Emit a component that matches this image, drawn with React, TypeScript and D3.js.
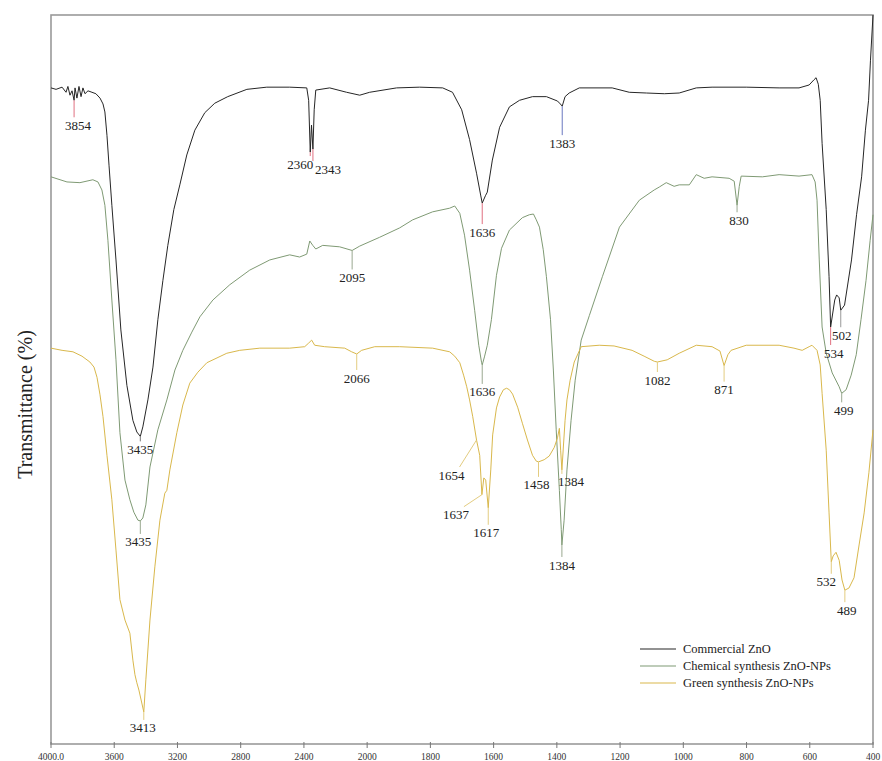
import React from 'react';
import * as d3 from 'd3';

// wavenumber (cm-1), transmittance (arbitrary %, stacked)
const commercial: [number, number][] = [
  [4000, 90.0], [3968, 89.8], [3930, 90.1], [3905, 89.4], [3893, 90.2], [3880, 89.0], [3867, 89.6],
  [3854, 88.3], [3848, 90.0], [3836, 88.6], [3823, 90.2], [3810, 88.8], [3798, 90.0], [3785, 89.2],
  [3766, 89.6], [3741, 89.4], [3716, 89.2], [3690, 88.6], [3671, 87.8], [3659, 86.7], [3646, 83.5],
  [3633, 79.4], [3615, 73.9], [3589, 66.4], [3558, 56.8], [3520, 49.2], [3482, 44.4], [3457, 42.8],
  [3435, 42.2], [3419, 43.5], [3387, 47.2], [3355, 51.7], [3324, 58.2], [3292, 63.6], [3261, 68.4],
  [3223, 73.3], [3185, 76.7], [3141, 80.8], [3090, 84.2], [3027, 86.6], [2964, 87.9], [2882, 88.8],
  [2761, 89.8], [2635, 90.1], [2490, 90.1], [2382, 90.0], [2370, 88.3], [2360, 81.2], [2352, 84.9],
  [2343, 81.6], [2335, 87.0], [2325, 89.7], [2237, 90.0], [2130, 89.4], [2047, 89.0], [1992, 89.4],
  [1907, 90.0], [1834, 90.1], [1761, 90.0], [1730, 89.4], [1701, 87.0], [1676, 82.9], [1654, 78.3],
  [1641, 75.3], [1636, 74.2], [1626, 75.2], [1620, 75.7], [1604, 80.1], [1581, 84.6], [1550, 87.4],
  [1518, 88.3], [1477, 88.8], [1433, 88.8], [1398, 88.2], [1389, 87.8], [1383, 87.5], [1374, 88.8],
  [1361, 89.3], [1329, 90.0], [1225, 90.0], [1171, 89.4], [1117, 89.3], [1060, 89.2], [1013, 89.3],
  [959, 90.0], [909, 90.1], [801, 90.1], [697, 90.0], [634, 90.0], [602, 90.4], [587, 91.1],
  [580, 91.4], [573, 90.5], [567, 88.3], [561, 82.4], [548, 73.3], [539, 64.1], [534, 57.2],
  [521, 60.9], [515, 61.6], [507, 61.2], [502, 59.5], [490, 60.2], [468, 66.4], [452, 72.6],
  [436, 77.8], [424, 84.2], [414, 88.3], [408, 93.8], [400, 100],
];

const chemical: [number, number][] = [
  [4000, 77.8], [3899, 77.1], [3817, 77.0], [3735, 77.4], [3703, 77.1], [3678, 76.0], [3659, 73.9],
  [3640, 69.1], [3615, 60.9], [3589, 52.7], [3564, 42.7], [3532, 36.2], [3501, 33.5], [3476, 31.8],
  [3450, 30.7], [3435, 30.6], [3419, 31.0], [3400, 32.8], [3374, 38.0], [3324, 43.1], [3267, 47.2],
  [3216, 51.3], [3166, 54.0], [3109, 56.5], [3058, 58.6], [2976, 60.9], [2869, 63.0], [2743, 65.0],
  [2616, 66.4], [2490, 67.1], [2427, 66.8], [2382, 67.2], [2363, 69.0], [2344, 68.4], [2325, 67.9],
  [2281, 68.4], [2174, 68.2], [2095, 67.7], [2047, 68.3], [1961, 69.5], [1897, 70.8], [1856, 71.9],
  [1793, 73.0], [1739, 73.5], [1723, 73.8], [1707, 72.8], [1692, 69.8], [1676, 65.0], [1660, 59.5],
  [1647, 54.7], [1638, 52.3], [1636, 52.0], [1629, 53.1], [1620, 54.7], [1607, 58.2], [1591, 64.3],
  [1575, 68.0], [1550, 70.5], [1509, 72.2], [1487, 72.6], [1474, 72.7], [1465, 71.9], [1455, 70.9],
  [1443, 67.8], [1433, 64.1], [1420, 58.2], [1411, 51.3], [1402, 43.1], [1392, 34.8], [1386, 29.4],
  [1384, 27.3], [1377, 30.7], [1368, 37.6], [1355, 44.4], [1342, 49.9], [1323, 55.4], [1297, 58.8],
  [1256, 64.1], [1202, 70.9], [1139, 74.6], [1092, 76.0], [1076, 76.4], [1054, 77.0], [1029, 76.5],
  [1013, 76.7], [981, 76.7], [959, 78.1], [934, 77.6], [909, 77.8], [855, 77.6], [839, 77.2],
  [830, 73.9], [823, 76.5], [817, 77.9], [750, 77.8], [697, 78.1], [634, 77.9], [593, 78.1],
  [583, 77.1], [577, 74.6], [570, 66.4], [561, 57.2], [548, 53.6], [529, 50.9], [507, 49.0],
  [499, 48.1], [485, 48.6], [469, 50.6], [453, 53.4], [438, 58.2], [422, 63.6], [409, 69.1], [400, 72.6],
];

const green: [number, number][] = [
  [4000, 54.3], [3930, 54.0], [3861, 53.8], [3804, 53.2], [3754, 52.4], [3728, 51.7], [3709, 50.3],
  [3690, 47.9], [3671, 44.9], [3646, 39.6], [3615, 33.5], [3589, 26.6], [3564, 19.8], [3532, 17.0],
  [3501, 15.2], [3482, 11.5], [3469, 9.5], [3457, 8.4], [3444, 7.4], [3413, 4.4], [3400, 8.8],
  [3374, 17.0], [3343, 24.3], [3311, 30.7], [3280, 34.4], [3267, 34.8], [3248, 37.6], [3204, 42.7],
  [3166, 46.5], [3122, 49.5], [3071, 51.0], [3014, 52.3], [2888, 53.6], [2806, 54.0], [2679, 54.3],
  [2490, 54.3], [2395, 54.5], [2370, 55.0], [2351, 55.4], [2332, 54.7], [2269, 54.5], [2142, 54.3],
  [2098, 53.8], [2066, 53.5], [2035, 54.0], [1976, 54.5], [1897, 54.5], [1793, 54.3], [1739, 53.8],
  [1723, 53.2], [1707, 52.3], [1695, 50.6], [1685, 49.0], [1676, 47.2], [1666, 44.9], [1654, 41.7],
  [1644, 39.6], [1637, 34.2], [1631, 36.5], [1625, 36.2], [1617, 32.4], [1609, 37.6], [1603, 42.4],
  [1591, 46.1], [1581, 47.6], [1569, 48.6], [1559, 48.8], [1550, 48.6], [1540, 48.0], [1524, 46.2],
  [1509, 44.0], [1493, 41.7], [1477, 39.6], [1465, 38.8], [1458, 38.7], [1440, 39.0], [1424, 39.5],
  [1408, 40.7], [1398, 42.0], [1392, 43.3], [1388, 40.3], [1384, 37.6], [1374, 44.4], [1368, 47.2],
  [1358, 49.9], [1345, 52.4], [1323, 54.5], [1266, 54.7], [1219, 54.6], [1162, 54.0], [1124, 53.2],
  [1092, 52.5], [1082, 52.4], [1051, 52.7], [1013, 53.6], [959, 54.7], [909, 54.5], [884, 53.9],
  [871, 51.9], [859, 53.4], [849, 54.0], [801, 54.7], [697, 54.7], [650, 54.3], [624, 54.0],
  [602, 54.5], [593, 54.7], [577, 54.0], [567, 52.0], [561, 48.1], [548, 40.3], [539, 31.7],
  [532, 25.0], [526, 25.8], [517, 26.3], [507, 25.2], [498, 22.5], [489, 21.1], [476, 21.4],
  [460, 22.8], [444, 27.3], [428, 31.7], [413, 37.2], [400, 43.1],
];

const seriesNames = ['Commercial ZnO', 'Chemical synthesis ZnO-NPs', 'Green synthesis ZnO-NPs'];
const seriesColors = ['#262626', '#7f9a74', '#d9b84c'];

const tickValues = [4000, 3600, 3200, 2800, 2400, 2000, 1800, 1600, 1400, 1200, 1000, 800, 600, 400];

// peak labels: series index, wavenumber, label dx, label dy (from the point), marker colour
type Peak = { s: number; w: number; text: string; dx: number; dy: number; color: string; diag?: boolean };
const peaks: Peak[] = [
  { s: 0, w: 3854, text: '3854', dx: 4, dy: 25, color: '#e07080' },
  { s: 0, w: 2360, text: '2360', dx: -10, dy: 12, color: '#e07080' },
  { s: 0, w: 2343, text: '2343', dx: 15, dy: 20, color: '#e07080' },
  { s: 0, w: 1636, text: '1636', dx: 0, dy: 29, color: '#e07080' },
  { s: 0, w: 1383, text: '1383', dx: 0, dy: 37, color: '#6a78c0' },
  { s: 0, w: 534, text: '534', dx: 3, dy: 26, color: '#e07080' },
  { s: 0, w: 502, text: '502', dx: 1, dy: 25, color: '#999999' },
  { s: 0, w: 3435, text: '3435', dx: 0, dy: 13, color: '#777777' },
  { s: 1, w: 3435, text: '3435', dx: -2, dy: 21, color: '#9aa890' },
  { s: 1, w: 2095, text: '2095', dx: 0, dy: 27, color: '#9aa890' },
  { s: 1, w: 1636, text: '1636', dx: 0, dy: 27, color: '#9aa890' },
  { s: 1, w: 1384, text: '1384', dx: 0, dy: 20, color: '#9aa890' },
  { s: 1, w: 830, text: '830', dx: 2, dy: 15, color: '#9aa890' },
  { s: 1, w: 499, text: '499', dx: 2, dy: 17, color: '#9aa890' },
  { s: 2, w: 3413, text: '3413', dx: -1, dy: 16, color: '#e3cc80' },
  { s: 2, w: 2066, text: '2066', dx: 0, dy: 24, color: '#e3cc80' },
  { s: 2, w: 1654, text: '1654', dx: -25, dy: 35, color: '#e3cc80', diag: true },
  { s: 2, w: 1637, text: '1637', dx: -26, dy: 20, color: '#e3cc80', diag: true },
  { s: 2, w: 1617, text: '1617', dx: -2, dy: 25, color: '#e3cc80' },
  { s: 2, w: 1458, text: '1458', dx: -2, dy: 23, color: '#e3cc80' },
  { s: 2, w: 1384, text: '1384', dx: 9, dy: 12, color: '#e3cc80' },
  { s: 2, w: 1082, text: '1082', dx: 0, dy: 18, color: '#e3cc80' },
  { s: 2, w: 871, text: '871', dx: 0, dy: 24, color: '#e3cc80' },
  { s: 2, w: 532, text: '532', dx: -5, dy: 20, color: '#e3cc80' },
  { s: 2, w: 489, text: '489', dx: 2, dy: 20, color: '#e3cc80' },
];

const W = 882;
const H = 761;
const margin = { top: 15, right: 9, bottom: 17, left: 51 };

const App: React.FC = () => {
  const left = margin.left;
  const right = W - margin.right;
  const top = margin.top;
  const bottom = H - margin.bottom;
  const step = (right - left) / 13;

  // split axis: 4000-2000 is compressed 2x against 2000-400
  const x = d3.scaleLinear().domain([4000, 2000, 400]).range([left, left + 5 * step, right]);
  const y = d3.scaleLinear().domain([0, 100]).range([bottom, top]);

  const all = [commercial, chemical, green];
  const line = d3.line<[number, number]>().x(d => x(d[0])).y(d => y(d[1]));

  const valueAt = (s: number, w: number) => {
    const d = all[s];
    const hit = d.find(p => p[0] === w);
    if (hit) return hit[1];
    const i = d.findIndex(p => p[0] < w);
    const a = d[i - 1], b = d[i];
    return a[1] + ((w - a[0]) / (b[0] - a[0])) * (b[1] - a[1]);
  };

  const font = '"Liberation Serif", "Times New Roman", serif';

  return (
    <svg width={W} height={H} style={{ position: 'absolute', left: 0, top: 0, background: '#fff' }}>
      <rect x={left} y={top} width={right - left} height={bottom - top} fill="none" stroke="#9a9a9a" strokeWidth={1.6} />

      {all.map((d, i) => (
        <path key={i} d={line(d) || ''} fill="none" stroke={seriesColors[i]} strokeWidth={1} />
      ))}

      {peaks.map((p, i) => {
        const px = x(p.w);
        const py = y(valueAt(p.s, p.w));
        const lx = px + p.dx;
        const ly = py + p.dy;
        const x2 = p.diag ? lx + 8 : px;
        const y2 = p.diag ? ly - 8 : ly - 8;
        return (
          <g key={i}>
            <line x1={px} y1={py} x2={x2} y2={y2} stroke={p.color} strokeWidth={1} />
            <text x={lx} y={ly} dy="0.35em" textAnchor="middle" fontFamily={font} fontSize={13} fill="#222">
              {p.text}
            </text>
          </g>
        );
      })}

      {tickValues.map(t => (
        <g key={t}>
          <line x1={x(t)} x2={x(t)} y1={bottom - 2} y2={bottom + 4} stroke="#777" strokeWidth={1} />
          <text x={x(t)} y={bottom + 13} dy="0.35em" textAnchor="middle" fontFamily={font} fontSize={9.5} fill="#333">
            {t === 4000 ? '4000.0' : t}
          </text>
        </g>
      ))}

      <text
        transform={`translate(25,${(top + bottom) / 2 + 25}) rotate(-90)`}
        textAnchor="middle"
        dy="0.35em"
        fontFamily={font}
        fontSize={20}
        fill="#222"
      >
        Transmittance (%)
      </text>

      {seriesNames.map((n, i) => (
        <g key={n} transform={`translate(640,${649 + i * 17})`}>
          <line x1={0} x2={36} y1={0} y2={0} stroke={seriesColors[i]} strokeWidth={1.2} />
          <text x={43} y={0} dy="0.35em" fontFamily={font} fontSize={12.5} fill="#222">
            {n}
          </text>
        </g>
      ))}
    </svg>
  );
};

export default App;
